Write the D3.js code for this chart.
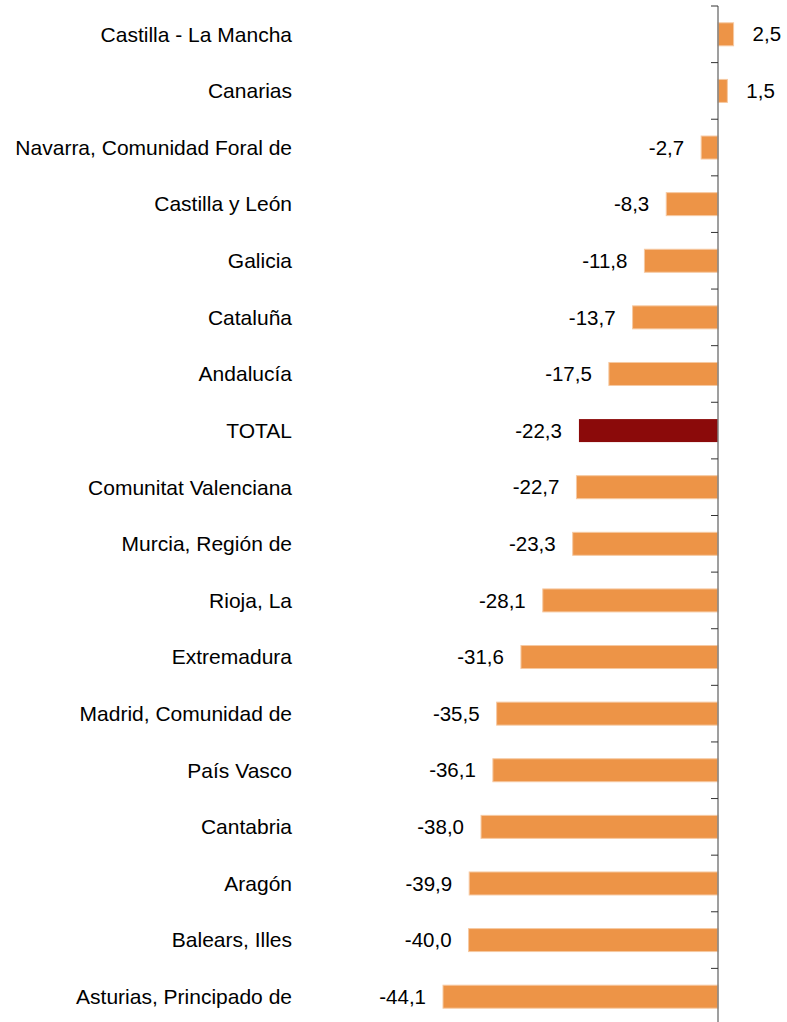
<!DOCTYPE html>
<html><head><meta charset="utf-8">
<script src="https://cdn.jsdelivr.net/npm/d3@7"></script>
<style>body{margin:0;background:#fff}svg{display:block}</style>
</head><body>
<script>
const categories = ["Castilla - La Mancha","Canarias","Navarra, Comunidad Foral de","Castilla y León","Galicia","Cataluña","Andalucía","TOTAL","Comunitat Valenciana","Murcia, Región de","Rioja, La","Extremadura","Madrid, Comunidad de","País Vasco","Cantabria","Aragón","Balears, Illes","Asturias, Principado de"];
const values = [2.5,1.5,-2.7,-8.3,-11.8,-13.7,-17.5,-22.3,-22.7,-23.3,-28.1,-31.6,-35.5,-36.1,-38.0,-39.9,-40.0,-44.1];
const highlight = ["TOTAL"];

const W = 787, H = 1022;
const svg = d3.select("body").append("svg").attr("width", W).attr("height", H);
const font = "Liberation Sans, Arial, sans-serif";

const x = d3.scaleLinear().domain([-44.1, 0]).range([443, 718]);
const yb = d3.scaleBand().domain(categories).range([6, 1025]);

const fmt = v => d3.format(".1f")(v).replace(".", ",").replace("−","-");

svg.selectAll("rect.bar").data(categories).enter().append("rect")
  .attr("x", (d,i) => Math.min(x(values[i]), x(0)))
  .attr("width", (d,i) => Math.abs(x(values[i]) - x(0)))
  .attr("y", d => yb(d) + yb.bandwidth()/2 - 11.5)
  .attr("height", 23)
  .attr("fill", d => highlight.includes(d) ? "#8B0A0A" : "#ED9447")
  .attr("stroke", d => highlight.includes(d) ? "none" : "#F6C9A2")
  .attr("stroke-width", 1);

const axisG = svg.append("g");
axisG.append("line").attr("x1", x(0)).attr("x2", x(0)).attr("y1", 6).attr("y2", H)
  .attr("stroke", "#7f7f7f").attr("stroke-width", 1.5);
axisG.selectAll("line.tick").data(categories).enter().append("line")
  .attr("x1", x(0) - 7).attr("x2", x(0)).attr("y1", d => yb(d)).attr("y2", d => yb(d))
  .attr("stroke", "#333").attr("stroke-width", 1);

svg.selectAll("text.cat").data(categories).enter().append("text")
  .attr("x", 292).attr("y", d => yb(d) + yb.bandwidth()/2)
  .attr("dy", "0.35em").attr("text-anchor", "end")
  .attr("font-family", font).attr("font-size", 21).attr("fill", "#000")
  .text(d => d);

svg.selectAll("text.val").data(categories).enter().append("text")
  .attr("x", (d,i) => values[i] >= 0 ? x(values[i]) + 19 : x(values[i]) - 17)
  .attr("y", d => yb(d) + yb.bandwidth()/2)
  .attr("dy", "0.35em")
  .attr("text-anchor", (d,i) => values[i] >= 0 ? "start" : "end")
  .attr("font-family", font).attr("font-size", 20.5).attr("fill", "#000")
  .text((d,i) => fmt(values[i]));
</script>
</body></html>
